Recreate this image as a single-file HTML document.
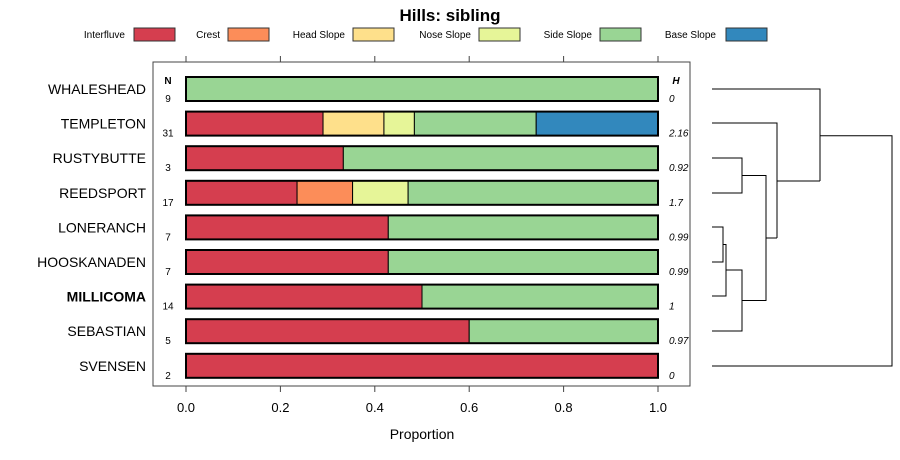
<!DOCTYPE html>
<html><head><meta charset="utf-8"><style>
body{margin:0;background:#fff;}
svg{display:block;font-family:"Liberation Sans",sans-serif;}
</style></head><body>
<svg id="chart" width="900" height="460">
<text x="450" y="21" text-anchor="middle" font-size="17" font-weight="bold">Hills: sibling</text>
<g id="legend"></g>
<rect x="153" y="62" width="537" height="324" fill="none" stroke="#444" stroke-width="1"/>
<g id="axes"></g>
<g id="bars"></g>
<g id="dend" stroke="#000" stroke-width="1" fill="none"></g>
<text x="422" y="439" text-anchor="middle" font-size="14">Proportion</text>
<text x="168" y="84" text-anchor="middle" font-size="10" font-weight="bold">N</text>
<text x="676" y="84" text-anchor="middle" font-size="10" font-weight="bold" font-style="italic">H</text>
</svg>
<script>
const classes=["Interfluve","Crest","Head Slope","Nose Slope","Side Slope","Base Slope"];
const colors=["#D53E4F","#FC8D59","#FEE08B","#E6F598","#99D594","#3288BD"];
const sites=["WHALESHEAD","TEMPLETON","RUSTYBUTTE","REEDSPORT","LONERANCH","HOOSKANADEN","MILLICOMA","SEBASTIAN","SVENSEN"];
const counts=[[0,0,0,0,9,0],[9,0,4,2,8,8],[1,0,0,0,2,0],[4,2,0,2,9,0],[3,0,0,0,4,0],[3,0,0,0,4,0],[7,0,0,0,7,0],[3,0,0,0,2,0],[2,0,0,0,0,0]];
const nVals=[9,31,3,17,7,7,14,5,2];
const hVals=["0","2.16","0.92","1.7","0.99","0.99","1","0.97","0"];
const ticks=[0,0.2,0.4,0.6,0.8,1.0];
const tickLabels=["0.0","0.2","0.4","0.6","0.8","1.0"];
const legendX=[[125,134],[220,228],[345,353],[471,479],[592,600],[716,726]];
const NS="http://www.w3.org/2000/svg";
function mk(t,a,p,txt){const e=document.createElementNS(NS,t);for(const k in a)e.setAttribute(k,a[k]);if(txt!==undefined)e.textContent=txt;p.appendChild(e);return e;}
const xs=v=>186+472*v;
const ys=i=>89+34.6*i;
const lg=document.getElementById('legend');
classes.forEach((c,i)=>{
 const t=mk('text',{x:legendX[i][0],y:38,'text-anchor':'end','font-size':10},lg,c);
 
 
 const r=mk('rect',{x:legendX[i][1],y:28,width:41,height:13,fill:colors[i],stroke:'#333','stroke-width':1},lg);
 
 
});
const ax=document.getElementById('axes');
ticks.forEach((v,i)=>{
 mk('line',{x1:xs(v),x2:xs(v),y1:56,y2:62,stroke:'#444'},ax);
 mk('line',{x1:xs(v),x2:xs(v),y1:386,y2:392,stroke:'#444'},ax);
 const t=mk('text',{x:xs(v),y:412,'text-anchor':'middle','font-size':13},ax,tickLabels[i]);
 
 
});
const bg=document.getElementById('bars');
sites.forEach((s,i)=>{
 const y=ys(i);
 const tot=counts[i].reduce((a,b)=>a+b,0);
 const lab=mk('text',{x:146,y:y+5,'text-anchor':'end','font-size':14,'font-weight':s==='MILLICOMA'?'bold':'normal'},bg,s);
 
 
 let cum=0;
 counts[i].forEach((c,k)=>{
  if(!c)return;
  const p=c/tot;
  const r=mk('rect',{x:xs(cum),y:y-12,width:xs(cum+p)-xs(cum),height:24,fill:colors[k],stroke:'#000','stroke-width':1},bg);
  
  
  cum+=p;
 });
 mk('rect',{x:xs(0),y:y-12,width:xs(1)-xs(0),height:24,fill:'none',stroke:'#000','stroke-width':2},bg);
 const n=mk('text',{x:168,y:y+13,'text-anchor':'middle','font-size':10},bg,nVals[i]);
 
 
 const h=mk('text',{x:669,y:y+13,'font-size':10,'font-style':'italic'},bg,hVals[i]);
 
 
});
const dg=document.getElementById('dend');
const segs=[
"M712 89H820V181","M712 123H777V238","M712 158H742V193H712","M712 227H723V262H712",
"M723 244.5H726V296H712","M726 270H742V331H712","M742 175.5H766V300.5H742","M766 238H777",
"M777 181H820","M820 135.7H892V366H712"];
segs.forEach(d=>{const p=mk('path',{d:d},dg);});
</script>
</body></html>
